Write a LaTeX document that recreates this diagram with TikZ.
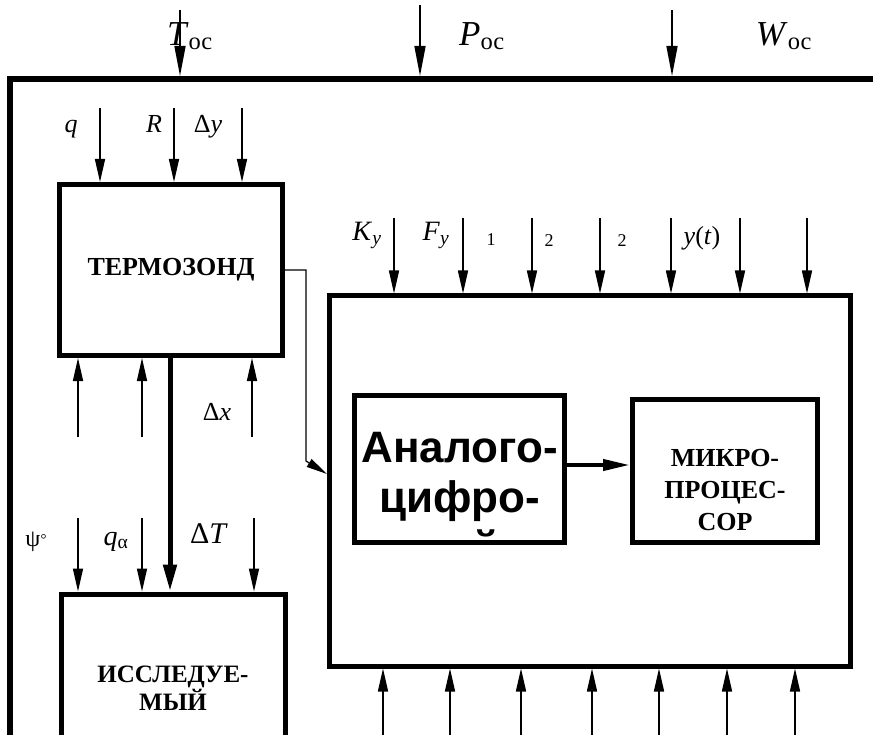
\documentclass[tikz,border=0pt]{standalone}
\usepackage{fontspec}
\setmainfont{Liberation Serif}
\newfontfamily\adcfont{Liberation Sans}
\usetikzlibrary{arrows.meta,positioning}

\begin{document}
\begin{tikzpicture}[
  x=1pt, y=-1pt,
  blk/.style   ={draw, line width=5pt, inner sep=0pt, align=center},
  ttl/.style   ={font=\fontsize{26}{27}\selectfont\bfseries, align=center, inner sep=0pt},
  adclbl/.style={font=\adcfont\fontsize{44}{50}\selectfont\bfseries, align=center, inner sep=0pt},
  ar/.style    ={-{Triangle[length=23pt, width=10pt]}, line width=1.5pt},
  arout/.style ={-{Triangle[length=30pt, width=11pt]}, line width=1.5pt},
  bus/.style   ={-{Triangle[length=27pt, width=13pt]}, line width=5pt},
  wire/.style  ={-{Triangle[length=21pt, width=9pt]}, line width=1.2pt},
  lbl/.style   ={font=\fontsize{26}{28}\selectfont, inner sep=0pt},
  lblmid/.style={font=\fontsize{28}{30}\selectfont, inner sep=0pt},
  lblbig/.style={font=\fontsize{35}{38}\selectfont, inner sep=0pt},
  lblsm/.style ={font=\fontsize{18}{20}\selectfont, inner sep=0pt},
]
\useasboundingbox (0,0) rectangle (873,735);
\clip (0,0) rectangle (873,735);

% --- environment ---
\node[blk, line width=6pt, minimum width=940pt, minimum height=821pt] (env) at (480,489.5) {};
\coordinate (tin) at (180,10);  \coordinate (pin) at (420,5);  \coordinate (win) at (672,10);
\draw[arout] (tin) -- (tin |- env.north);
\draw[arout] (pin) -- (pin |- env.north);
\draw[arout] (win) -- (win |- env.north);
\node[lblbig, anchor=base] (toc) at (190,46) {\textit{T}\textsubscript{ос}};
\node[lblbig, anchor=base] (poc) at (482,46) {\textit{P}\textsubscript{ос}};
\node[lblbig, anchor=base] (woc) at (784,46) {\textit{W}\textsubscript{ос}};

% --- blocks ---
\node[blk, ttl, minimum width=223pt, minimum height=171pt] (termo) at (171,270) {ТЕРМОЗОНД};
\node[blk, minimum width=224pt, minimum height=300pt] (iss) at (173,744) {};
\node[ttl, font=\fontsize{25}{26}\selectfont\bfseries] (isstxt) at (173,688) {ИССЛЕДУЕ-\\МЫЙ};
\node[blk, minimum width=520.5pt, minimum height=370pt] (sys) at (589.75,481) {};
\begin{scope}
  \clip (357,398) rectangle (562,537);
  \node[adclbl, anchor=base] (adctxt) at (459.5,562) {Аналого-\\цифро-\\вой};
\end{scope}
\node[blk, minimum width=210pt, minimum height=147pt] (adc) at (459.5,469) {};
\node[blk, minimum width=185pt, minimum height=143pt] (mcu) at (725,471) {};
\node[ttl, font=\fontsize{26}{32}\selectfont\bfseries] (mcutxt) at (725,490) {МИКРО-\\ПРОЦЕС-\\СОР};

% --- thermoprobe inputs ---
\coordinate (tq) at (100,108);  \coordinate (tr) at (174,108);  \coordinate (ty) at (242,108);
\draw[ar] (tq) -- (tq |- termo.north);
\draw[ar] (tr) -- (tr |- termo.north);
\draw[ar] (ty) -- (ty |- termo.north);
\node[lbl, anchor=base] (lq) at (71,133) {\textit{q}};
\node[lbl, anchor=base] (lr) at (154,133) {\textit{R}};
\node[lbl, anchor=base] (ldy) at (208,133) {Δ\textit{y}};
\coordinate (tb1) at (78,437);  \coordinate (tb2) at (142,437);  \coordinate (tb3) at (252,437);
\draw[ar] (tb1) -- (tb1 |- termo.south);
\draw[ar] (tb2) -- (tb2 |- termo.south);
\draw[ar] (tb3) -- (tb3 |- termo.south);
\node[lbl, anchor=base] (ldx) at (217,420) {Δ\textit{x}};

% --- sample inputs ---
\coordinate (ia1) at (78,518);  \coordinate (ia2) at (142,518);  \coordinate (ia3) at (254,518);
\draw[ar] (ia1) -- (ia1 |- iss.north);
\draw[ar] (ia2) -- (ia2 |- iss.north);
\draw[ar] (ia3) -- (ia3 |- iss.north);
\draw[bus] ([xshift=-1pt]termo.south) -- ([xshift=-3pt]iss.north);
\node[lbl, font=\fontsize{24}{26}\selectfont, anchor=base] (lpsi) at (36,546) {ψ\raisebox{0.15ex}{\fontsize{15}{15}\selectfont °}};
\node[lblmid, anchor=base] (lqa) at (116,545) {\textit{q}\textsubscript{α}};
\node[lblmid, font=\fontsize{30}{32}\selectfont, anchor=base] (ldt) at (209,543) {Δ\textit{T}};

% --- measuring system ---
\draw[wire] (termo.east) -| (306,461) coordinate (bend) -- ([yshift=7pt]sys.west);
\draw[bus, line width=4pt, -{Triangle[length=27pt, width=11pt]}] ([yshift=4pt]adc.east) -- ([yshift=4pt]adc.east -| mcu.west);
\coordinate (s1) at (394,218);  \coordinate (s2) at (463,218);  \coordinate (s3) at (532,218);
\coordinate (s4) at (600,218);  \coordinate (s5) at (671,218);  \coordinate (s6) at (740,218);
\coordinate (s7) at (807,218);
\draw[ar] (s1) -- (s1 |- sys.north);  \draw[ar] (s2) -- (s2 |- sys.north);
\draw[ar] (s3) -- (s3 |- sys.north);  \draw[ar] (s4) -- (s4 |- sys.north);
\draw[ar] (s5) -- (s5 |- sys.north);  \draw[ar] (s6) -- (s6 |- sys.north);
\draw[ar] (s7) -- (s7 |- sys.north);
\node[lblmid, anchor=base] (lky) at (367,241) {\textit{K}\textsubscript{\textit{y}}};
\node[lblmid, anchor=base] (lfy) at (436,241) {\textit{F}\textsubscript{\textit{y}}};
\node[lblsm, anchor=base] (l1) at (491,246) {1};
\node[lblsm, anchor=base] (l2) at (549,247) {2};
\node[lblsm, anchor=base] (l3) at (622,247) {2};
\node[lbl, anchor=base] (lyt) at (702,245) {\textit{y}(\textit{t})};
\coordinate (b1) at (383,735);  \coordinate (b2) at (450,735);  \coordinate (b3) at (521,735);
\coordinate (b4) at (592,735);  \coordinate (b5) at (659,735);  \coordinate (b6) at (727,735);
\coordinate (b7) at (795,735);
\draw[ar] (b1) -- (b1 |- sys.south);  \draw[ar] (b2) -- (b2 |- sys.south);
\draw[ar] (b3) -- (b3 |- sys.south);  \draw[ar] (b4) -- (b4 |- sys.south);
\draw[ar] (b5) -- (b5 |- sys.south);  \draw[ar] (b6) -- (b6 |- sys.south);
\draw[ar] (b7) -- (b7 |- sys.south);
\end{tikzpicture}
\end{document}
